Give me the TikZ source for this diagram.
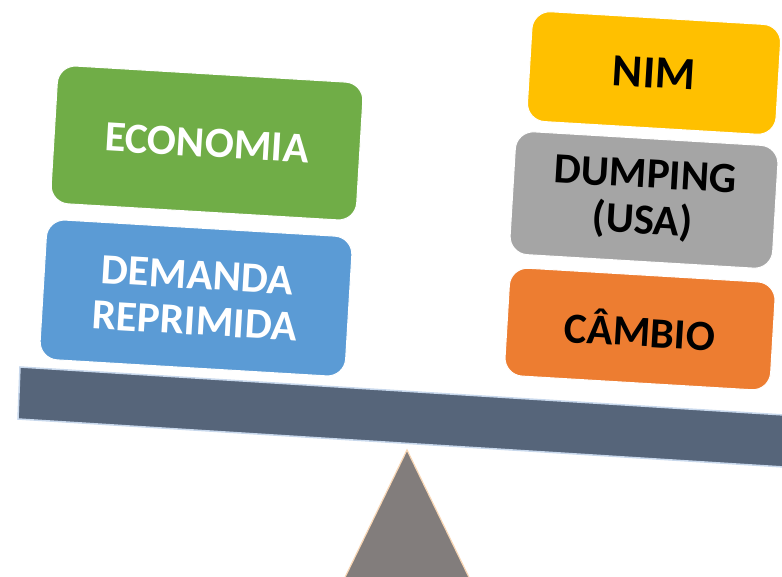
\documentclass[tikz,border=0pt]{standalone}
\usepackage{fontspec}
\setmainfont{Carlito}
\usepackage{tikz}

\definecolor{verde}{RGB}{112,173,71}
\definecolor{azul}{RGB}{91,155,213}
\definecolor{amarelo}{RGB}{255,192,0}
\definecolor{cinza}{RGB}{165,165,165}
\definecolor{laranja}{RGB}{237,125,49}
\definecolor{barra}{RGB}{86,101,122}
\definecolor{barraborda}{RGB}{200,216,236}
\definecolor{apoio}{RGB}{130,125,124}
\definecolor{pessego}{RGB}{248,214,180}

\tikzset{caixa/.style={rounded corners=18pt, align=center, inner sep=0pt,
    rotate=-3.4, draw=white, line width=1pt,
    font=\fontsize{43}{46}\selectfont\bfseries}}

\begin{document}
\begin{tikzpicture}[x=1pt,y=1pt]

\useasboundingbox (0,0) rectangle (782,-577);
\clip (0,0) rectangle (782,-577);
\fill[white] (0,0) rectangle (782,-577);

% apoio
\coordinate (topo) at (407,-450);
\coordinate (baseE) at (334,-600);
\coordinate (baseD) at (480,-600);
\filldraw[fill=apoio, draw=pessego, line width=1.2pt] (topo) -- (baseE) -- (baseD) -- cycle;

% barra
\coordinate (b1) at (20,-367);
\coordinate (b2) at (800,-416);
\coordinate (b3) at (800,-468);
\coordinate (b4) at (18,-419);
\filldraw[fill=barra, draw=barraborda, line width=1.5pt] (b1) -- (b2) -- (b3) -- (b4) -- cycle;

% lado esquerdo
\node[caixa, fill=verde, text=white, minimum width=306pt, minimum height=138pt]
    (economia) at (207,-143) {ECONOMIA};
\node[caixa, fill=azul, text=white, minimum width=306pt, minimum height=140pt]
    (demanda) at (196,-298) {DEMANDA\\REPRIMIDA};

% lado direito
\node[caixa, fill=amarelo, text=black, minimum width=249pt, minimum height=110pt,
    font=\fontsize{46}{48}\selectfont\bfseries]
    (nim) at (654,-73) {NIM};
\node[caixa, fill=cinza, text=black, minimum width=263pt, minimum height=123pt]
    (dumping) at (644,-200) {DUMPING\\(USA)};
\node[caixa, fill=laranja, text=black, minimum width=266pt, minimum height=108pt]
    (cambio) at (640,-329) {CÂMBIO};

\end{tikzpicture}
\end{document}
